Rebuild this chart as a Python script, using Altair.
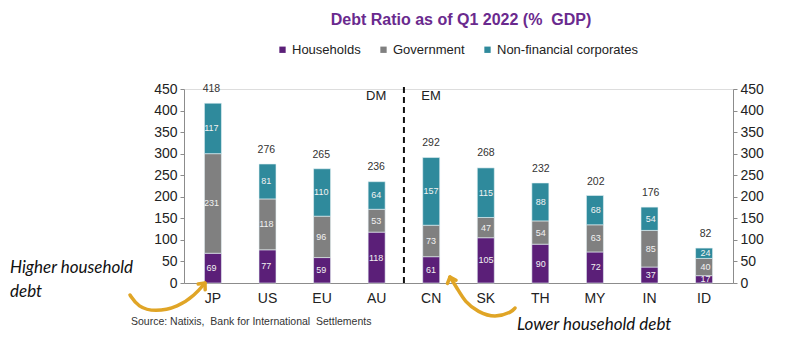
import altair as alt
import pandas as pd

countries = ["JP", "US", "EU", "AU", "CN", "SK", "TH", "MY", "IN", "ID"]
households = [69, 77, 59, 118, 61, 105, 90, 72, 37, 17]
government = [231, 118, 96, 53, 73, 47, 54, 63, 85, 40]
corporates = [117, 81, 110, 64, 157, 115, 88, 68, 54, 24]
totals = [418, 276, 265, 236, 292, 268, 232, 202, 176, 82]
series_names = ["Households", "Government", "Non-financial corporates"]
series_colors = ["#5B1F78", "#808080", "#2F8A9C"]
y_ticks = list(range(0, 451, 50))
groups = ["DM", "EM"]
group_first = ["AU", "CN"]

rows = []
for i, c in enumerate(countries):
    base = 0
    for k, (name, vals) in enumerate(zip(series_names, [households, government, corporates])):
        v = vals[i]
        rows.append(dict(country=c, series=name, value=v, order=k, mid=base + v / 2, label=str(v)))
        base += v
df = pd.DataFrame(rows)
tot = pd.DataFrame(dict(country=countries, total=totals))

FONT = "Liberation Sans"
W, H = 549, 194

yscale = alt.Scale(domain=[0, 450], nice=False)
xscale = alt.Scale(domain=countries, paddingInner=0, paddingOuter=0.03)


def xplain(**kw):
    return alt.X("country:N", sort=countries, scale=xscale, axis=None, **kw)


xenc = alt.X("country:N", sort=countries, scale=xscale,
             axis=alt.Axis(title=None, labelAngle=0, ticks=False, labelFontSize=14,
                           labelPadding=8, domainColor="#8c8c8c", labelColor="#222",
                           labelFont=FONT))


def yaxis(orient):
    return alt.Axis(title=None, values=y_ticks, orient=orient, tickSize=4, grid=False,
                    domainColor="#8c8c8c", tickColor="#8c8c8c", labelFontSize=14,
                    labelColor="#222", labelFont=FONT, labelPadding=3)


bars = alt.Chart(df).mark_bar(size=17, stroke="#e6f2f5", strokeWidth=0.6).encode(
    x=xenc,
    y=alt.Y("sum(value):Q", scale=yscale, axis=yaxis("left"), stack="zero"),
    color=alt.Color("series:N", scale=alt.Scale(domain=series_names, range=series_colors),
                    legend=alt.Legend(orient="none", legendX=92, legendY=-46,
                                      direction="horizontal", title=None,
                                      symbolType="square", symbolSize=40,
                                      symbolStrokeWidth=0,
                                      labelFontSize=13, labelFont=FONT, labelColor="#222",
                                      columnPadding=16, labelOffset=3)),
    order=alt.Order("order:Q", sort="ascending"),
)

seg_labels = alt.Chart(df).mark_text(fontSize=9, color="#f2f2f2", font=FONT).encode(
    x=xplain(),
    y=alt.Y("mid:Q", scale=yscale, axis=None),
    text="label:N",
)

tot_labels = alt.Chart(tot).mark_text(fontSize=10.5, color="#333", dy=-14, font=FONT).encode(
    x=xplain(),
    y=alt.Y("total:Q", scale=yscale, axis=yaxis("right")),
    text="total:Q",
)

divider = alt.Chart(pd.DataFrame(dict(country=["AU"], y0=[0], y1=[455]))).mark_rule(
    strokeDash=[6, 4], strokeWidth=2, color="#111").encode(
    x=xplain(bandPosition=1),
    y=alt.Y("y0:Q", scale=yscale, axis=None),
    y2="y1:Q",
)

grp = alt.Chart(pd.DataFrame(dict(country=group_first, y=[433, 433], t=groups))).mark_text(
    fontSize=13, color="#222", font=FONT).encode(
    x=xplain(),
    y=alt.Y("y:Q", scale=yscale, axis=None),
    text="t:N",
)

one = alt.Data(values=[{}])


def note(txt, x, y, **kw):
    return alt.Chart(one).mark_text(**kw).encode(
        x=alt.value(x), y=alt.value(y), text=alt.value(txt))


# decorative hand-drawn arrows (annotation geometry, in pixels)
arrow_path = pd.DataFrame(dict(
    a=[0, 0, 0, 0, 0, 0, 1, 1, 1, 1, 1, 1, 1],
    i=[0, 1, 2, 3, 4, 5, 0, 1, 2, 3, 4, 5, 6],
    px=[-54, -46, -29, -6, 11, 21, 331, 328, 311, 294, 281, 273, 266],
    py=[206, 218, 223, 218, 206, 194, 219, 223, 229, 223, 213, 199, 188],
))
arrow_heads = pd.DataFrame(dict(a=[0, 1], px=[21, 266], py=[194, 188], ang=[40, -20]))

arrows = alt.Chart(arrow_path).mark_line(
    interpolate="basis", strokeWidth=3.5, color="#E0A526", strokeCap="round").encode(
    x=alt.X("px:Q", scale=None, axis=None),
    y=alt.Y("py:Q", scale=None, axis=None),
    detail="a:N",
    order="i:Q",
)
heads = alt.Chart(arrow_heads).mark_point(
    shape="M-0.8,0.9L0,0L0.8,0.9", filled=False, size=130, strokeWidth=3.5,
    color="#E0A526", opacity=1, strokeCap="round", strokeJoin="round").encode(
    x=alt.X("px:Q", scale=None, axis=None),
    y=alt.Y("py:Q", scale=None, axis=None),
    angle=alt.Angle("ang:Q", scale=None),
)

NB = "\u00a0"
ann = [
    note(f"Debt Ratio as of Q1 2022 (%{NB} GDP)", 277, -69, align="center", baseline="middle",
         fontSize=16, fontWeight="bold", font=FONT, color="#6A2A8E"),
    note("Higher household", -174, 179, align="left", baseline="middle", fontStyle="italic",
         fontSize=17, font="Lato", color="#111"),
    note("debt", -174, 203, align="left", baseline="middle", fontStyle="italic",
         fontSize=17, font="Lato", color="#111"),
    note("Lower household debt", 333, 236, align="left", baseline="middle", fontStyle="italic",
         fontSize=17, font="Lato", color="#111"),
    note(f"Source: Natixis,{NB} Bank for International{NB} Settlements", -53, 233, align="left",
         baseline="middle", fontSize=10.5, font=FONT, color="#333"),
]

chart = alt.layer(bars, seg_labels, tot_labels, divider, grp, arrows, heads, *ann).resolve_scale(
    y="independent", x="independent"
).properties(
    width=W, height=H,
    autosize=alt.AutoSizeParams(type="none"),
    padding={"left": 184, "top": 89, "right": 67, "bottom": 70},
).configure_view(stroke=None).configure(background="white")

chart.save("out.html", embed_options={"renderer": "svg", "actions": False})
